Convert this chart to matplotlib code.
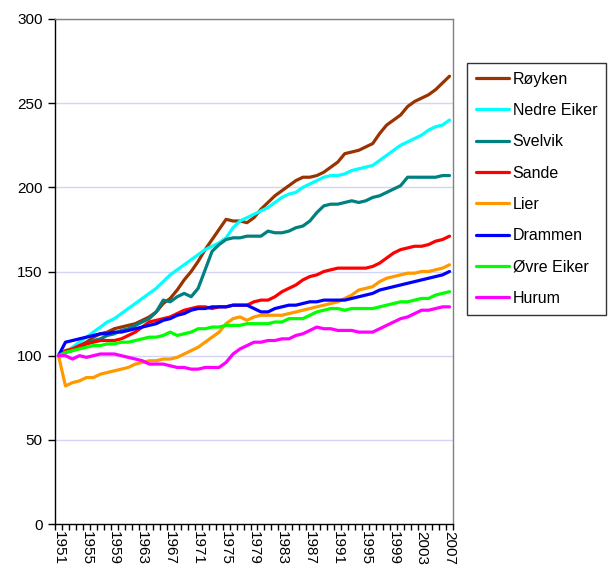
import numpy as np
import matplotlib
matplotlib.use('Agg')
import matplotlib.pyplot as plt
from matplotlib.ticker import FixedLocator

plt.rcParams['font.family'] = ['Liberation Sans', 'DejaVu Sans']

years = list(range(1951, 2008))

royken = [100, 102, 104, 106, 108, 111, 113, 114, 116, 117,
          118, 119, 121, 123, 126, 131, 134, 139, 145, 150,
          156, 163, 169, 175, 181, 180, 180, 179, 182, 187,
          191, 195, 198, 201, 204, 206, 206, 207, 209, 212,
          215, 220, 221, 222, 224, 226, 232, 237, 240, 243,
          248, 251, 253, 255, 258, 262, 266]
nedre_eiker = [100, 102, 105, 108, 111, 114, 117, 120, 122, 125,
               128, 131, 134, 137, 140, 144, 148, 151, 154, 157,
               160, 163, 165, 167, 170, 176, 180, 182, 184, 186,
               188, 191, 194, 196, 197, 200, 202, 204, 206, 207,
               207, 208, 210, 211, 212, 213, 216, 219, 222, 225,
               227, 229, 231, 234, 236, 237, 240]
svelvik = [100, 102, 103, 105, 107, 109, 110, 112, 113, 115,
           116, 118, 120, 122, 126, 133, 132, 135, 137, 135,
           140, 151, 162, 166, 169, 170, 170, 171, 171, 171,
           174, 173, 173, 174, 176, 177, 180, 185, 189, 190,
           190, 191, 192, 191, 192, 194, 195, 197, 199, 201,
           206, 206, 206, 206, 206, 207, 207]
sande = [100, 103, 104, 106, 107, 108, 109, 109, 109, 110,
         112, 114, 117, 120, 121, 122, 123, 125, 127, 128,
         129, 129, 128, 129, 129, 130, 130, 130, 132, 133,
         133, 135, 138, 140, 142, 145, 147, 148, 150, 151,
         152, 152, 152, 152, 152, 153, 155, 158, 161, 163,
         164, 165, 165, 166, 168, 169, 171]
lier = [100, 82, 84, 85, 87, 87, 89, 90, 91, 92,
        93, 95, 96, 97, 97, 98, 98, 99, 101, 103,
        105, 108, 111, 114, 119, 122, 123, 121, 123, 124,
        124, 124, 124, 125, 126, 127, 128, 129, 130, 131,
        132, 134, 136, 139, 140, 141, 144, 146, 147, 148,
        149, 149, 150, 150, 151, 152, 154]
drammen = [100, 108, 109, 110, 111, 112, 113, 113, 114, 114,
           115, 116, 117, 118, 119, 121, 122, 124, 125, 127,
           128, 128, 129, 129, 129, 130, 130, 130, 128, 126,
           126, 128, 129, 130, 130, 131, 132, 132, 133, 133,
           133, 133, 134, 135, 136, 137, 139, 140, 141, 142,
           143, 144, 145, 146, 147, 148, 150]
ovre_eiker = [100, 102, 103, 104, 105, 106, 106, 107, 107, 108,
              108, 109, 110, 111, 111, 112, 114, 112, 113, 114,
              116, 116, 117, 117, 118, 118, 118, 119, 119, 119,
              119, 120, 120, 122, 122, 122, 124, 126, 127, 128,
              128, 127, 128, 128, 128, 128, 129, 130, 131, 132,
              132, 133, 134, 134, 136, 137, 138]
hurum = [100, 100, 98, 100, 99, 100, 101, 101, 101, 100,
         99, 98, 97, 95, 95, 95, 94, 93, 93, 92,
         92, 93, 93, 93, 96, 101, 104, 106, 108, 108,
         109, 109, 110, 110, 112, 113, 115, 117, 116, 116,
         115, 115, 115, 114, 114, 114, 116, 118, 120, 122,
         123, 125, 127, 127, 128, 129, 129]

names = ['Røyken', 'Nedre Eiker', 'Svelvik', 'Sande', 'Lier',
         'Drammen', 'Øvre Eiker', 'Hurum']
series = [royken, nedre_eiker, svelvik, sande, lier, drammen, ovre_eiker, hurum]
colors = ['#993300', '#00ffff', '#008080', '#ff0000', '#ff9900',
          '#0000ff', '#00ff00', '#ff00ff']

fig = plt.figure(figsize=(6.11, 5.72), dpi=100)
ax = fig.add_axes([55 / 611, 48 / 572, 398 / 611, 505 / 572])

x = np.arange(len(years))
for vals, name, c in zip(series, names, colors):
    ax.plot(x, vals, color=c, lw=2.3, label=name, solid_capstyle='round')

ax.set_xlim(-0.5, len(years) - 0.5)
ax.set_ylim(0, 300)
ax.set_yticks(range(0, 301, 50))
for v in range(50, 301, 50):
    ax.axhline(v, color='#d4d4f7', lw=1, zorder=0)

ax.set_xticks(x[::4])
ax.set_xticklabels([str(y) for y in years[::4]], rotation=270)
ax.xaxis.set_minor_locator(FixedLocator(np.arange(-0.5, len(years), 1)))
ax.tick_params(axis='x', which='major', length=0, pad=5, labelsize=11)
ax.tick_params(axis='x', which='minor', length=4, width=1, direction='out')
ax.tick_params(axis='y', length=5, width=1, labelsize=11, pad=4)

for s in ['left', 'bottom']:
    ax.spines[s].set_color('black')
    ax.spines[s].set_linewidth(1)
for s in ['top', 'right']:
    ax.spines[s].set_color('#808080')
    ax.spines[s].set_linewidth(1)

leg = fig.legend(loc='upper left', bbox_to_anchor=(467 / 611, 1 - 63 / 572),
                 frameon=True, fancybox=False, fontsize=11.5, handlelength=2.1,
                 labelspacing=1.02, borderpad=0.55, handletextpad=0.2,
                 borderaxespad=0)
leg.get_frame().set_edgecolor('black')
leg.get_frame().set_linewidth(1)

fig.savefig('out.png', dpi=100)
